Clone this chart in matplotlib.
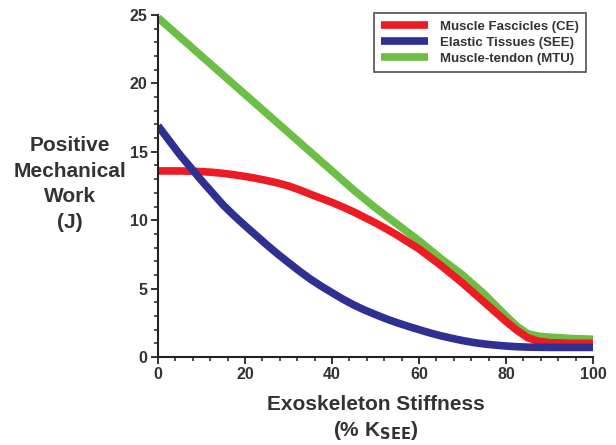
import matplotlib
matplotlib.use('Agg')

import matplotlib.pyplot as plt
from matplotlib.ticker import MultipleLocator

plt.rcParams['font.family'] = ['Liberation Sans', 'DejaVu Sans']

stiffness = [0, 2.5, 5, 7.5, 10, 12.5, 15, 17.5, 20, 22.5, 25, 27.5, 30, 32.5, 35, 37.5, 40,
             42.5, 45, 47.5, 50, 52.5, 55, 57.5, 60, 62.5, 65, 67.5, 70, 72.5, 75, 77.5, 80,
             82.5, 85, 87.5, 90, 95, 100]
fascicles = [13.6, 13.6, 13.6, 13.58, 13.55, 13.5, 13.42, 13.32, 13.2, 13.06, 12.9, 12.72, 12.5,
             12.22, 11.9, 11.6, 11.3, 10.96, 10.6, 10.2, 9.8, 9.36, 8.9, 8.4, 7.9, 7.3, 6.7,
             6.05, 5.4, 4.7, 4.0, 3.3, 2.6, 1.95, 1.4, 1.15, 1.05, 1.0, 1.0]
elastic = [16.9, 15.85, 14.8, 13.85, 12.9, 12.0, 11.1, 10.33, 9.6, 8.9, 8.2, 7.53, 6.9, 6.28,
           5.7, 5.18, 4.7, 4.23, 3.8, 3.43, 3.1, 2.78, 2.5, 2.24, 2.0, 1.76, 1.55, 1.37,
           1.2, 1.06, 0.95, 0.87, 0.8, 0.75, 0.72, 0.71, 0.7, 0.7, 0.7]
mtu = [24.8, 24.1, 23.4, 22.7, 22.0, 21.3, 20.6, 19.9, 19.2, 18.5, 17.8, 17.1, 16.4, 15.7,
       15.0, 14.3, 13.6, 12.9, 12.2, 11.55, 10.9, 10.3, 9.7, 9.1, 8.5, 7.85, 7.2, 6.6,
       6.0, 5.3, 4.6, 3.8, 3.0, 2.25, 1.7, 1.52, 1.45, 1.35, 1.3]

labels = ['Muscle Fascicles (CE)', 'Elastic Tissues (SEE)', 'Muscle-tendon (MTU)']
colors = ['#ED1C24', '#2E3192', '#6CBE45']
txt = '#333333'

fig = plt.figure(figsize=(6.16, 4.45), dpi=100)
ax = fig.add_axes([0.2565, 0.1978, 0.7062, 0.7685])

l3, = ax.plot(stiffness, mtu, color=colors[2], lw=5.5, solid_capstyle='butt',
              solid_joinstyle='round', label=labels[2])
l1, = ax.plot(stiffness, fascicles, color=colors[0], lw=5.5, solid_capstyle='butt',
              solid_joinstyle='round', label=labels[0])
l2, = ax.plot(stiffness, elastic, color=colors[1], lw=5.5, solid_capstyle='butt',
              solid_joinstyle='round', label=labels[1])

ax.set_xlim(0, 100)
ax.set_ylim(0, 25)
ax.xaxis.set_major_locator(MultipleLocator(20))
ax.xaxis.set_minor_locator(MultipleLocator(4))
ax.yaxis.set_major_locator(MultipleLocator(5))
ax.yaxis.set_minor_locator(MultipleLocator(1))
for s in ['top', 'right']:
	ax.spines[s].set_visible(False)
for s in ['left', 'bottom']:
	ax.spines[s].set_linewidth(1.5)
	ax.spines[s].set_color('#222222')
ax.tick_params(which='major', direction='out', length=5, width=1.3, color='#222222',
               labelsize=11.5, labelcolor=txt, pad=2.5)
ax.tick_params(which='minor', direction='out', length=3, width=1.1, color='#222222')
for lab in ax.get_xticklabels() + ax.get_yticklabels():
	lab.set_fontweight('bold')

leg = ax.legend(handles=[l1, l2, l3], loc='upper right', bbox_to_anchor=(1.0, 1.025),
                fontsize=9.5, frameon=True, fancybox=False, edgecolor='#222222',
                handlelength=3.6, handletextpad=0.9, borderpad=0.55, labelspacing=0.3)
leg.get_frame().set_linewidth(1.2)
for t in leg.get_texts():
	t.set_fontweight('bold')
	t.set_color(txt)

fig.text(70 / 616, 1 - 184 / 445, 'Positive\nMechanical\nWork\n(J)', ha='center', va='center',
         fontsize=15, fontweight='bold', color=txt, linespacing=1.43)
fig.text(376 / 616, 1 - 404 / 445, 'Exoskeleton Stiffness', ha='center', va='center',
         fontsize=15, fontweight='bold', color=txt)
fig.text(376 / 616, 1 - 430 / 445, r'(% K$_{\mathbf{SEE}}$)', ha='center', va='center',
         fontsize=15, fontweight='bold', color=txt)

fig.savefig('out.png', dpi=100)
